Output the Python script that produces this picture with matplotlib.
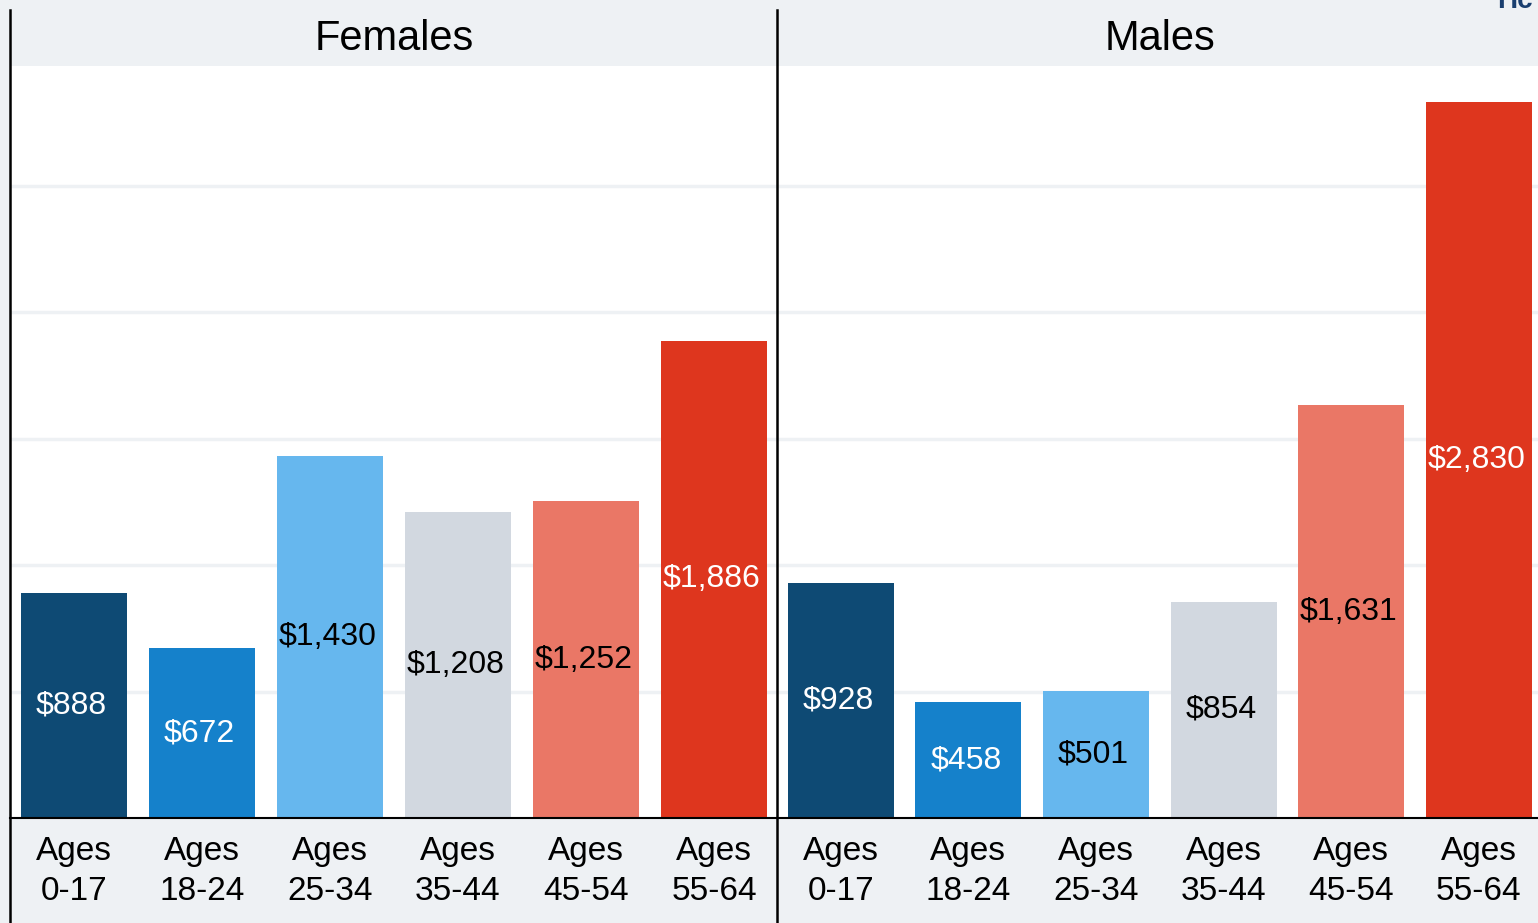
import matplotlib
matplotlib.use("Agg")
import matplotlib.pyplot as plt
from matplotlib.lines import Line2D

plt.rcParams['font.family'] = ['Liberation Sans', 'DejaVu Sans']

# Data
age_groups = ["Ages\n0-17", "Ages\n18-24", "Ages\n25-34", "Ages\n35-44", "Ages\n45-54", "Ages\n55-64"]
females = [888, 672, 1430, 1208, 1252, 1886]
males = [928, 458, 501, 854, 1631, 2830]
panel_titles = ["Females", "Males"]

bar_colors = ["#0e4a74", "#1581cb", "#66b7ee", "#d2d8e0", "#ea7766", "#de361e"]
label_colors = ["white", "white", "black", "black", "black", "white"]

BG = "#eef1f4"
W, H = 1538, 923
fig = plt.figure(figsize=(W / 100, H / 100), dpi=100, facecolor=BG)

ax_bottom = 1 - 818 / H
ax_height = (818 - 66) / H
panels = [(10, 128.0, females), (777, 127.6, males)]

for (x0, pitch, values), title in zip(panels, panel_titles):
    ax = fig.add_axes([x0 / W, ax_bottom, 6 * pitch / W, ax_height])
    ax.set_facecolor("white")
    xs = range(len(values))
    ax.bar(xs, values, width=106 / pitch, color=bar_colors, zorder=2)
    ax.set_xlim(-0.5, 5.5)
    ax.set_ylim(0, 2973)
    ax.set_yticks([500, 1000, 1500, 2000, 2500])
    ax.yaxis.grid(True, color=BG, linewidth=2.5, zorder=1)
    ax.tick_params(axis='y', left=False, labelleft=False)
    ax.set_xticks(list(xs))
    ax.set_xticklabels(age_groups, fontsize=24, linespacing=1.38)
    ax.tick_params(axis='x', length=0, pad=13)
    for s in ["top", "right", "left"]:
        ax.spines[s].set_visible(False)
    ax.spines["bottom"].set_color("black")
    ax.spines["bottom"].set_linewidth(1.5)
    for x, v, c in zip(xs, values, label_colors):
        ax.text(x - 0.02, v / 2, f"${v:,}", ha="center", va="center",
                fontsize=23, color=c, zorder=3)
    # panel header
    fig.text((x0 + 3 * pitch) / W, 1 - 39 / H, title, ha="center", va="center",
             fontsize=30, color="black")

# vertical panel dividers
for xp in (10, 777):
    fig.add_artist(Line2D([xp / W, xp / W], [0, 1 - 10 / H], color="black",
                          linewidth=1.8, transform=fig.transFigure))

fig.text(1497 / W, 1 - 8 / H, "Hc", ha="left", va="baseline", fontsize=20,
         fontweight="bold", color="#1a3f6f")

fig.savefig("out.png", dpi=100, facecolor=BG)
